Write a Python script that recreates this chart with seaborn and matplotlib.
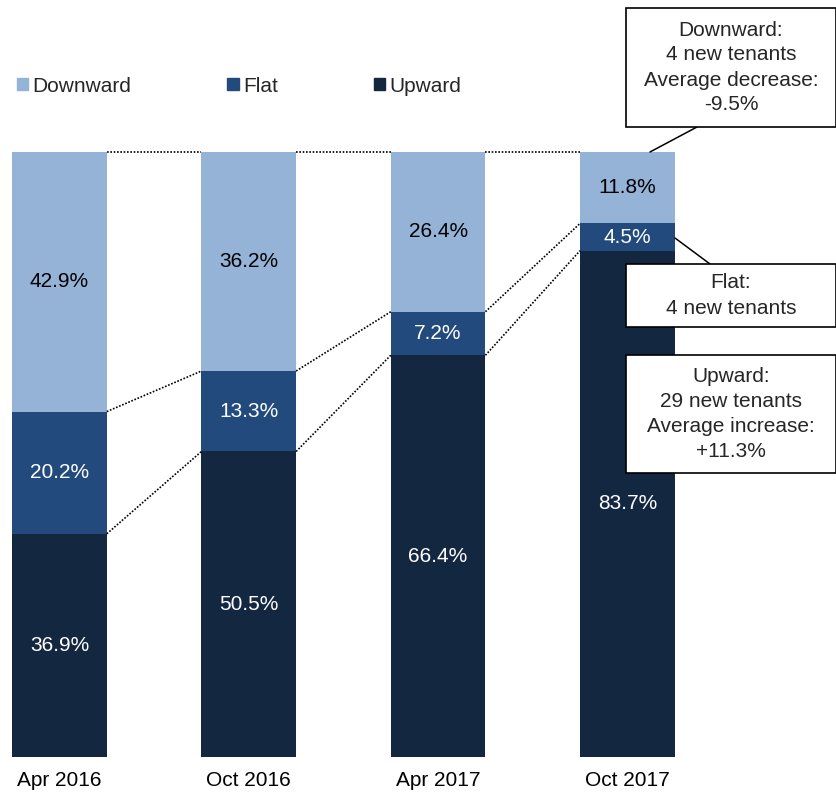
import numpy as np
import matplotlib
matplotlib.use("Agg")
import matplotlib.pyplot as plt
from matplotlib.patches import Patch, Rectangle
import seaborn as sns

periods = ["Apr 2016", "Oct 2016", "Apr 2017", "Oct 2017"]
downward = [42.9, 36.2, 26.4, 11.8]
flat = [20.2, 13.3, 7.2, 4.5]
upward = [36.9, 50.5, 66.4, 83.7]

c_down = "#95B3D7"
c_flat = "#224A7D"
c_up = "#132741"

sns.set_theme(style="white")
plt.rcParams["font.family"] = ["Liberation Sans", "DejaVu Sans"]

W, H = 837, 795
fig = plt.figure(figsize=(W / 100, H / 100), dpi=100)
ax = fig.add_axes([0, 1 - 757 / H, 1, 757 / H])

up = np.array(upward)
mid = up + np.array(flat)
top = mid + np.array(downward)

# overlapping bars from the top layer down give the stack
sns.barplot(x=periods, y=top, color=c_down, width=0.5, saturation=1, linewidth=0, ax=ax)
sns.barplot(x=periods, y=mid, color=c_flat, width=0.5, saturation=1, linewidth=0, ax=ax)
sns.barplot(x=periods, y=up, color=c_up, width=0.5, saturation=1, linewidth=0, ax=ax)

ax.set_xlim(-59.5 / 189.3, (W - 59.5) / 189.3)
ax.set_ylim(0, 757 / 6.05)
for s in ax.spines.values():
    s.set_visible(False)
ax.set_yticks([])
fs = 15
ax.tick_params(axis="x", length=0, pad=10, labelsize=fs, colors="black")
ax.set_xlabel("")

for i in range(len(periods)):
    ax.text(i, up[i] / 2, f"{upward[i]:.1f}%", ha="center", va="center", color="white", fontsize=fs)
    ax.text(i, up[i] + flat[i] / 2, f"{flat[i]:.1f}%", ha="center", va="center", color="white", fontsize=fs)
    ax.text(i, mid[i] + downward[i] / 2, f"{downward[i]:.1f}%", ha="center", va="center", color="black", fontsize=fs)

# dotted connectors between bars
for i in range(len(periods) - 1):
    for series in (up, mid, top):
        ax.plot([i + 0.25, i + 0.75], [series[i], series[i + 1]], color="black",
                linestyle=(0, (1, 1)), linewidth=1.2)

handles = [Patch(color=c_down, label="Downward"), Patch(color=c_flat, label="Flat"),
           Patch(color=c_up, label="Upward")]
fig.legend(handles=handles, loc="center left", bbox_to_anchor=(17 / W, 1 - 86 / H), ncol=3,
           frameon=False, fontsize=fs, handlelength=0.55, handleheight=0.55, handletextpad=0.2,
           columnspacing=4.6, borderaxespad=0, borderpad=0)


def callout(x0, y0, x1, y1, lines):
    rect = Rectangle((x0 / W, 1 - y1 / H), (x1 - x0) / W, (y1 - y0) / H, transform=fig.transFigure,
                     facecolor="white", edgecolor="black", linewidth=1.2, zorder=5)
    fig.patches.append(rect)
    fig.text((x0 + x1) / 2 / W, 1 - (y0 + y1) / 2 / H, "\n".join(lines), ha="center", va="center",
             fontsize=fs, linespacing=1.4, zorder=6)


def leader(xa, ya, xb, yb):
    fig.add_artist(plt.Line2D([xa / W, xb / W], [1 - ya / H, 1 - yb / H], color="black",
                              linewidth=1.1, transform=fig.transFigure, zorder=4))


leader(650, 152, 697, 127)
leader(675, 238, 710, 264)
callout(626, 8, 836, 127, ["Downward:", "4 new tenants", "Average decrease:", "-9.5%"])
callout(626, 264, 836, 327, ["Flat:", "4 new tenants"])
callout(626, 355, 836, 473, ["Upward:", "29 new tenants", "Average increase:", "+11.3%"])

fig.savefig("out.png", dpi=100)
